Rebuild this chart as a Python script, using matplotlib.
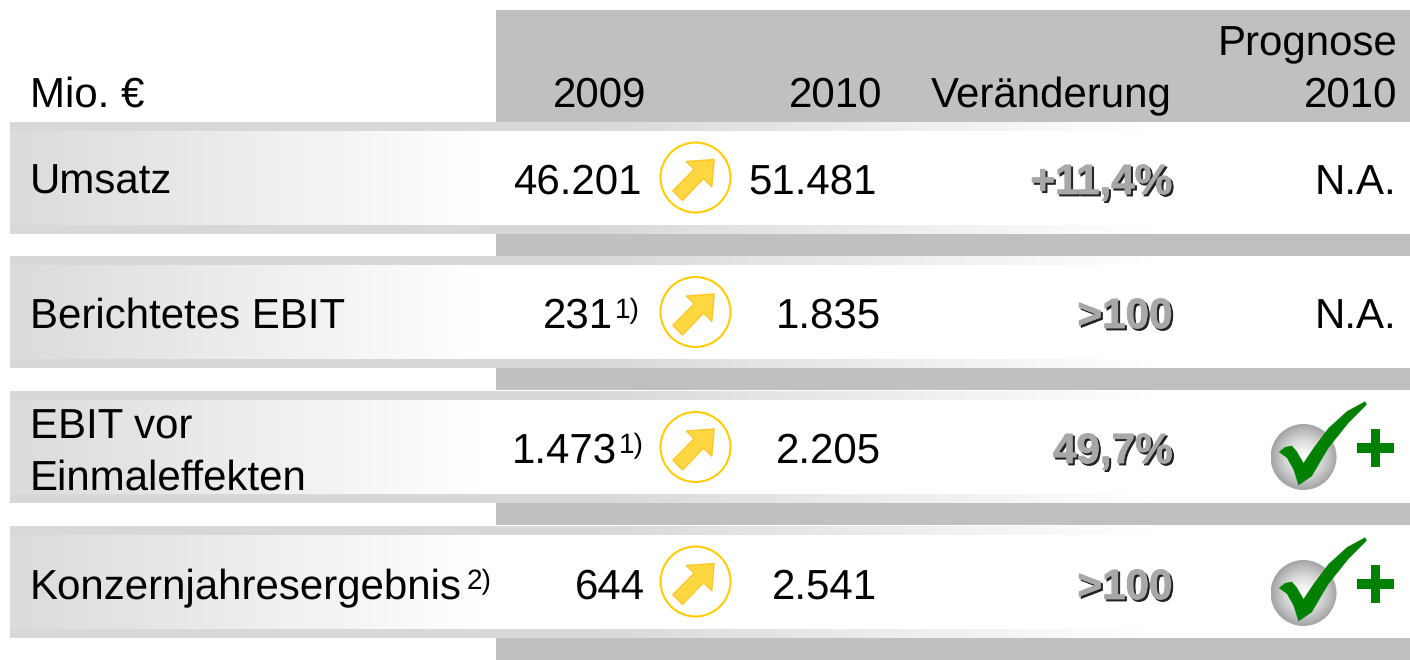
import numpy as np
import matplotlib
matplotlib.use('Agg')
import matplotlib.pyplot as plt
import matplotlib.patheffects as pe
from matplotlib.patches import Circle, Polygon, Rectangle

plt.rcParams['font.family'] = ['Liberation Sans', 'DejaVu Sans']
plt.rcParams['text.hinting'] = 'no_hinting'
plt.rcParams['text.hinting_factor'] = 1

# table content
labels = ['Umsatz', 'Berichtetes EBIT', 'EBIT vor\nEinmaleffekten', 'Konzernjahresergebnis']
label_notes = ['', '', '', '2)']
values_2009 = ['46.201', '231', '1.473', '644']
notes_2009 = ['', '1)', '1)', '']
values_2010 = ['51.481', '1.835', '2.205', '2.541']
changes = ['+11,4%', '>100', '49,7%', '>100']
forecast = ['N.A.', 'N.A.', 'check', 'check']

# layout in pixels
row_top = [122, 256, 391, 526]
row_h = 112
strip_h = 9
baseline = [194, 328, 463, 599]
circle_y = [177.5, 312, 447, 581.5]
right_2009 = [641, 645, 645, 645]
right_2010 = [877, 881, 881, 877]

BAND = '#c0c0c0'
FS = 30.4

arrow_shape = np.array([[18.7, -18], [-9.3, -16], [-1.3, -8.3], [-22.7, 13.3],
                        [-13, 23], [8, 1], [16.3, 9.3]])
tick_shape = np.array([[-24.7, -5], [-18.3, -10], [-11.7, -11.3], [-6.7, -5.7], [0, 6],
                       [10, -9], [25, -29], [43.3, -45.7], [61.7, -55.7], [63.3, -52.3],
                       [45, -34], [25, -9], [8.3, 19.3], [-5, 28.3], [-10, 12.7],
                       [-16.7, 0.7]])

fig = plt.figure(figsize=(14.1, 6.6), dpi=100, facecolor='white')
ax = fig.add_axes([0, 0, 1, 1])


def hgrad(x0, x1, y0, y1, start, xfade_start, xfade_end, z=1):
    # grey to white left to right
    xs = np.linspace(x0, x1, 400)
    g = np.clip((xs - xfade_start) / (xfade_end - xfade_start), 0, 1)
    vals = (start + (255 - start) * g) / 255
    ax.imshow(vals[None, :], extent=[x0, x1, y1, y0], cmap='gray', vmin=0, vmax=1,
              aspect='auto', zorder=z, interpolation='bilinear')


def right_text(x, y, s, size=FS, **kw):
    ax.text(x, y, s, ha='right', va='baseline', fontsize=size, color='black', zorder=5, **kw)


# grey column bands
ax.add_patch(Rectangle((496, 10), 914, 112, color=BAND, lw=0, zorder=0))
for top in row_top:
    ax.add_patch(Rectangle((496, top + row_h), 914, 22, color=BAND, lw=0, zorder=0))

# row gradients
for top in row_top:
    hgrad(10, 1410, top, top + strip_h, 216, 600, 1170, z=1)
    hgrad(10, 1410, top + row_h - strip_h, top + row_h, 216, 600, 1170, z=1)
    hgrad(10, 1410, top + strip_h, top + row_h - strip_h, 220, 30, 490, z=2)

# header
ax.text(30, 107, 'Mio. €', ha='left', va='baseline', fontsize=FS, zorder=5)
right_text(646, 107, '2009')
right_text(882, 107, '2010')
right_text(1172, 107, 'Veränderung')
right_text(1397, 55, 'Prognose')
right_text(1397, 107, '2010')

for i in range(4):
    y = baseline[i]
    if '\n' in labels[i]:
        first, second = labels[i].split('\n')
        ax.text(30, y - 24, first, ha='left', va='baseline', fontsize=FS, zorder=5)
        ax.text(30, y + 27, second, ha='left', va='baseline', fontsize=FS, zorder=5)
    else:
        ax.text(30, y, labels[i], ha='left', va='baseline', fontsize=FS, zorder=5)
    if label_notes[i]:
        ax.text(492, y - 10, label_notes[i], ha='right', va='baseline', fontsize=20, zorder=5)

    # 2009 value with footnote
    if notes_2009[i]:
        right_text(613 + (4 if i == 2 else 0), y, values_2009[i])
        right_text(640 + (4 if i == 2 else 0), y - 10, notes_2009[i], size=20)
    else:
        right_text(right_2009[i], y, values_2009[i])
    right_text(right_2010[i], y, values_2010[i])

    # arrow icon
    cy = circle_y[i]
    ax.add_patch(Circle((695.5, cy), 35, fc='white', ec='#ffcc00', lw=1.5, zorder=4))
    ax.add_patch(Polygon(arrow_shape + [695.5, cy], fc='#ffd740', ec='#fcc62c', lw=1, zorder=5))

    # change column, grey bold with hard shadow
    ax.text(1174, y + 2, changes[i], ha='right', va='baseline', fontsize=FS, fontweight='bold',
            color='#222222', zorder=5,
            path_effects=[pe.withStroke(linewidth=0.6, foreground='#222222')])
    ax.text(1172, y, changes[i], ha='right', va='baseline', fontsize=FS, fontweight='bold',
            color='#a8a8a8', zorder=6,
            path_effects=[pe.withStroke(linewidth=0.6, foreground='#a8a8a8')])

    # forecast column
    if forecast[i] == 'N.A.':
        right_text(1396, y, 'N.A.')
    else:
        cx, sy = 1303.5, y - 6
        yy, xx = np.mgrid[-1:1:120j, -1:1:120j]
        rr = np.clip(np.hypot(xx, yy), 0, 1)
        im = ax.imshow(0.98 - 0.34 * rr ** 1.5, extent=[cx - 33, cx + 33, sy + 33, sy - 33],
                       cmap='gray', vmin=0, vmax=1, aspect='auto', zorder=4,
                       interpolation='bilinear')
        im.set_clip_path(Circle((cx, sy), 33, transform=ax.transData))
        ax.add_patch(Polygon(tick_shape + [cx, sy], fc='#008000', ec='none', zorder=5))
        ax.add_patch(Rectangle((1356.5, sy - 14.5), 37.5, 10.5, fc='#008000', lw=0, zorder=5))
        ax.add_patch(Rectangle((1371, sy - 28), 9.2, 37.5, fc='#008000', lw=0, zorder=5))

ax.set_xlim(0, 1410)
ax.set_ylim(660, 0)
ax.axis('off')

fig.savefig('out.png', dpi=100, facecolor='white')
